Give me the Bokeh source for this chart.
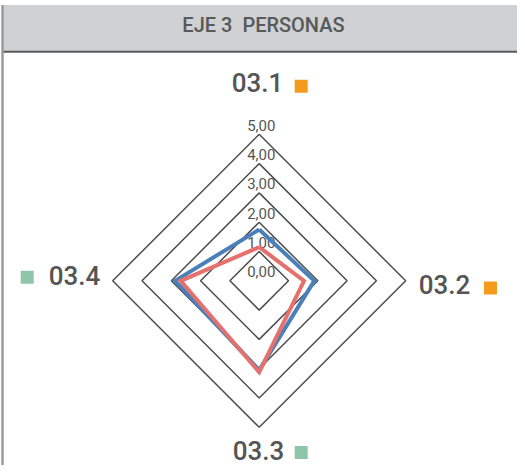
import numpy as np
from bokeh.plotting import figure
from bokeh.models import Range1d
from bokeh.core.properties import value
from bokeh.embed import file_html
from bokeh.resources import INLINE

# ---- data ----
title = "EJE 3\u00a0 PERSONAS"
categories = ["03.1", "03.2", "03.3", "03.4"]
cat_square_colors = ["#f39b1f", "#f39b1f", "#8fc5a8", "#8fc5a8"]
series_blue = [1.75, 1.88, 3.05, 2.87]
series_red = [1.15, 1.53, 3.12, 2.68]
grid_levels = [1, 2, 3, 4, 5]
tick_values = [0, 1, 2, 3, 4, 5]
tick_labels = ["0,00", "1,00", "2,00", "3,00", "4,00", "5,00"]

# ---- layout ----
W, H = 517, 465
PX = 29.3          # pixels per value unit
CX, CY = 258.7, 280.3   # center in figure pixels (from top-left)

def fx(px):  # page x -> data
    return (px - 8 - CX) / PX

def fy(py):  # page y -> data
    return (CY - (py - 8)) / PX

p = figure(width=W, height=H, output_backend="svg", toolbar_location=None,
           x_range=Range1d(-CX / PX, (W - CX) / PX),
           y_range=Range1d(-(H - CY) / PX, CY / PX),
           min_border=0, min_border_left=0, min_border_right=0,
           min_border_top=0, min_border_bottom=0)
p.axis.visible = False
p.grid.visible = False
p.outline_line_color = None
p.background_fill_color = "white"
p.border_fill_color = "white"

# frame: title bar + border
p.quad(left=[fx(10)], right=[fx(526)], top=[fy(12.5)], bottom=[fy(58.5)],
       fill_color="#cfd1d3", line_color=None)
p.segment(x0=[fx(10)], y0=[fy(59.2)], x1=[fx(526)], y1=[fy(59.2)],
          line_color="#5a5a5a", line_width=2)
p.segment(x0=[fx(10)], y0=[fy(12.5)], x1=[fx(10)], y1=[fy(480)],
          line_color="#9a9a9a", line_width=2.5)
p.text(x=[fx(271)], y=[fy(32)], text=[title], text_font=value("Roboto Medium"),
       text_font_size="20px", text_color="#58595b",
       text_align="center", text_baseline="middle")

# angles: 03.1 up, 03.2 right, 03.3 down, 03.4 left
angles = np.array([90, 0, -90, 180]) * np.pi / 180.0

# grid diamonds
for lv in grid_levels:
    xs = list(lv * np.cos(angles)) + [lv * np.cos(angles[0])]
    ys = list(lv * np.sin(angles)) + [lv * np.sin(angles[0])]
    p.line(xs, ys, line_color="#4d4d4d", line_width=1.5)

# tick labels
p.text(x=[0.07] * len(tick_values), y=tick_values, text=tick_labels,
       text_font=value("Roboto"), text_font_size="15px", text_color="#555555",
       text_align="center", text_baseline="middle", y_offset=-9)

# series
def closed(vals):
    v = np.array(vals)
    xs = list(v * np.cos(angles)) + [v[0] * np.cos(angles[0])]
    ys = list(v * np.sin(angles)) + [v[0] * np.sin(angles[0])]
    return xs, ys

bx, by = closed(series_blue)
rx, ry = closed(series_red)
p.line(bx, by, line_color="#4a80ba", line_width=4, line_join="miter")
p.line(rx, ry, line_color="#e5706c", line_width=4, line_join="miter")

# category labels
lab_x = [fx(265), fx(452), fx(266), fx(82)]
lab_y = [fy(89.5), fy(292), fy(457.5), fy(283)]
p.text(x=lab_x, y=lab_y, text=categories, text_font=value("Roboto Medium"),
       text_font_size="26px", text_color="#555555",
       text_align="center", text_baseline="middle")
sq_x = [fx(308.7), fx(498), fx(308.7), fx(34.7)]
sq_y = [fy(93.7), fy(295.5), fy(460), fy(284.7)]
p.rect(x=sq_x, y=sq_y, width=13, height=13, width_units="screen",
       height_units="screen", fill_color=cat_square_colors, line_color=None)

open("out.html", "w").write(file_html(p, INLINE))
